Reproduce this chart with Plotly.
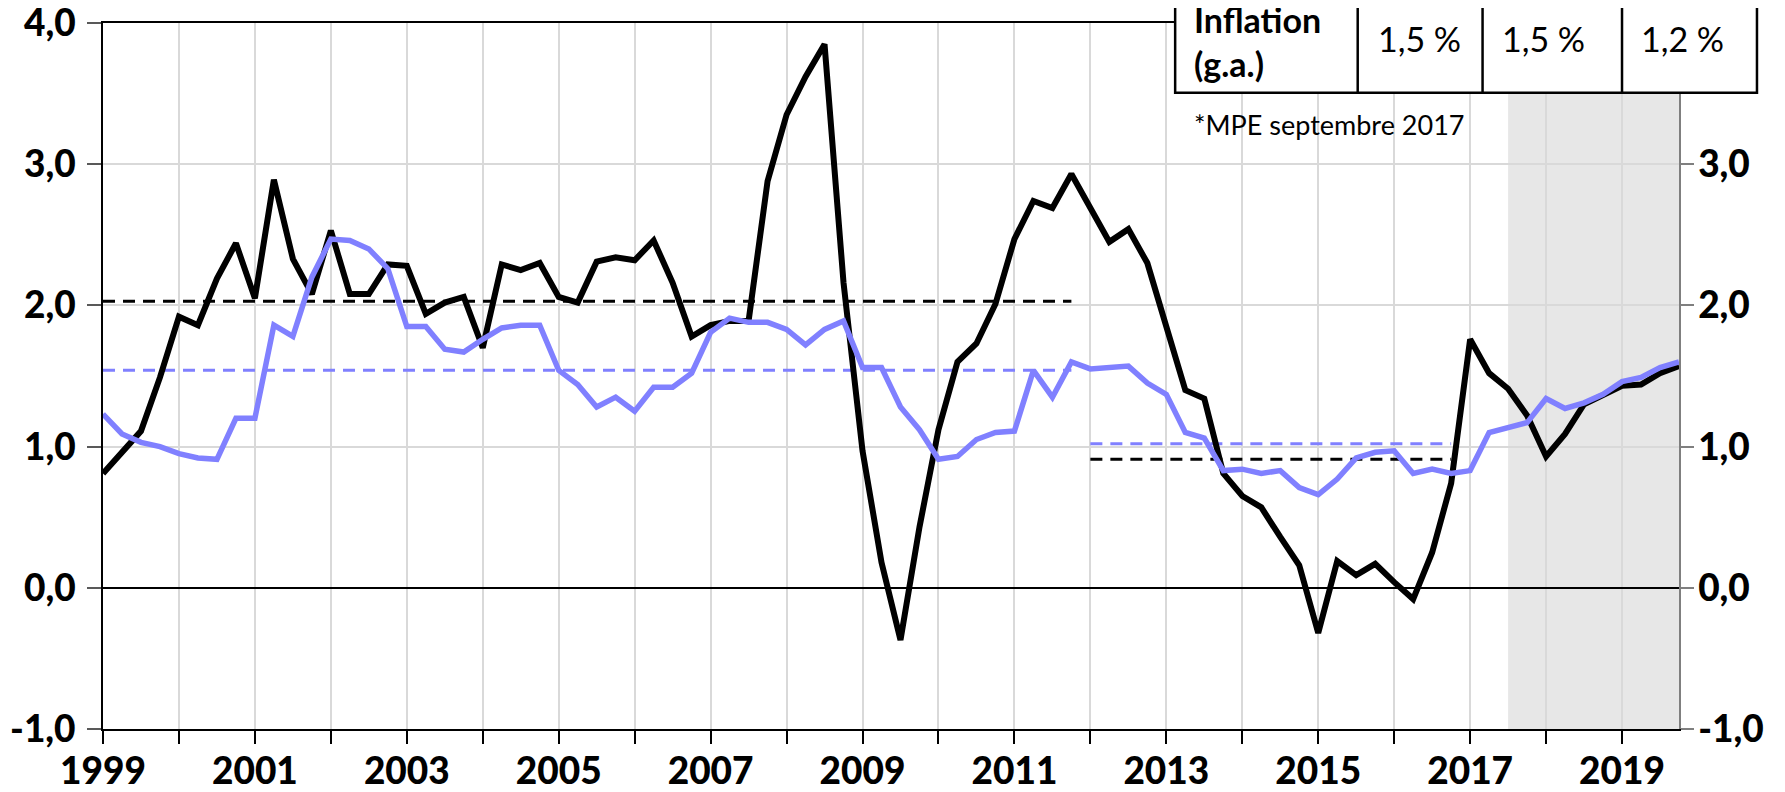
import plotly.graph_objects as go

# ---------------- data (quarterly, 1999Q1 .. 2019Q4) ----------------
start_year = 1999
black_series = [
    0.81, 0.96, 1.11, 1.49, 1.92, 1.86, 2.19, 2.44, 2.05, 2.89, 2.33, 2.08,
    2.53, 2.08, 2.08, 2.29, 2.28, 1.94, 2.02, 2.06, 1.70, 2.29, 2.25, 2.30,
    2.06, 2.02, 2.31, 2.34, 2.32, 2.46, 2.16, 1.78, 1.86, 1.89, 1.89, 2.88,
    3.35, 3.62, 3.85, 2.16, 0.97, 0.18, -0.37, 0.43, 1.12, 1.60, 1.73, 2.01,
    2.47, 2.74, 2.69, 2.93, 2.68, 2.45, 2.54, 2.30, 1.85, 1.40, 1.34, 0.81,
    0.65, 0.57, 0.36, 0.16, -0.32, 0.19, 0.09, 0.17, 0.04, -0.08, 0.25, 0.74,
    1.76, 1.52, 1.41, 1.22, 0.93, 1.09, 1.30, 1.37, 1.43, 1.44, 1.52, 1.57,
]
blue_series = [
    1.23, 1.09, 1.03, 1.00, 0.95, 0.92, 0.91, 1.20, 1.20, 1.86, 1.78, 2.20,
    2.47, 2.46, 2.40, 2.26, 1.85, 1.85, 1.69, 1.67, 1.76, 1.84, 1.86, 1.86,
    1.54, 1.44, 1.28, 1.35, 1.25, 1.42, 1.42, 1.52, 1.81, 1.91, 1.88, 1.88,
    1.83, 1.72, 1.83, 1.89, 1.56, 1.56, 1.28, 1.12, 0.91, 0.93, 1.05, 1.10,
    1.11, 1.54, 1.35, 1.60, 1.55, 1.56, 1.57, 1.45, 1.37, 1.10, 1.06, 0.83,
    0.84, 0.81, 0.83, 0.71, 0.66, 0.77, 0.92, 0.96, 0.97, 0.81, 0.84, 0.81,
    0.83, 1.10, 1.13, 1.17, 1.34, 1.27, 1.31, 1.37, 1.46, 1.49, 1.56, 1.60,
]
quarters = [start_year + i / 4 for i in range(len(black_series))]

# period averages (dashed lines)
period1 = [1999.0, 2011.75]
period2 = [2012.0, 2016.75]
black_avg = [2.03, 0.91]
blue_avg = [1.54, 1.02]

# projection shading
proj_period = [2017.5, 2019.75]

year_ticks = list(range(1999, 2020))
year_labels = [str(y) if y % 2 == 1 else "" for y in year_ticks]
y_ticks = [-1, 0, 1, 2, 3, 4]
y_labels = ["-1,0", "0,0", "1,0", "2,0", "3,0", "4,0"]
y2_ticks = [-1, 0, 1, 2, 3]
y2_labels = ["-1,0", "0,0", "1,0", "2,0", "3,0"]

table_label = "Inflation<br>(g.a.)"
table_values = ["1,5 %", "1,5 %", "1,2 %"]
note_text = "*MPE septembre 2017"

BLACK = "#000000"
BLUE = "#8080FF"
FONT = "Lato"

fig = go.Figure()

# dashed averages
for i, per in enumerate([period1, period2]):
    fig.add_trace(go.Scatter(x=per, y=[black_avg[i]] * 2, mode="lines",
                             line=dict(color=BLACK, width=3, dash="12px,8px"),
                             showlegend=False, hoverinfo="skip"))
    fig.add_trace(go.Scatter(x=per, y=[blue_avg[i]] * 2, mode="lines",
                             line=dict(color=BLUE, width=3, dash="12px,8px"),
                             showlegend=False, hoverinfo="skip"))

fig.add_trace(go.Scatter(x=quarters, y=black_series, mode="lines",
                         line=dict(color=BLACK, width=6), showlegend=False))
fig.add_trace(go.Scatter(x=quarters, y=blue_series, mode="lines", yaxis="y2",
                         line=dict(color=BLUE, width=5.5), showlegend=False))

# shaded projection area
fig.add_shape(type="rect", xref="x", yref="y", x0=proj_period[0], x1=proj_period[1],
              y0=-1, y1=4, fillcolor="#E7E7E7", line=dict(width=0), layer="below")

# ---------------- geometry (screen pixels of the reference) ----------------
OFF = 8  # page body margin
L, R = 102.5, 1679.0
T, B = 23.0, 729.0
def px_x(p):
    return (p - L) / (R - L)
def px_y(p):
    return 1 - (p - T) / (B - T)

col_edges = [1175, 1357.6, 1482.5, 1622, 1757]
tbl_bottom = 92.7
fig.add_shape(type="rect", xref="paper", yref="paper",
              x0=px_x(col_edges[0]), x1=px_x(col_edges[-1]),
              y0=px_y(tbl_bottom), y1=px_y(-10),
              fillcolor="white", line=dict(color=BLACK, width=2.5), layer="above")
for e in col_edges[1:-1]:
    fig.add_shape(type="line", xref="paper", yref="paper",
                  x0=px_x(e), x1=px_x(e), y0=px_y(tbl_bottom), y1=px_y(-10),
                  line=dict(color=BLACK, width=2.5), layer="above")

fig.add_annotation(xref="paper", yref="paper", x=px_x(1192), y=px_y(42),
                   xanchor="left", yanchor="middle", align="left",
                   text=table_label, showarrow=False,
                   font=dict(family=FONT, size=34, color=BLACK, weight="bold"))
for v, cx in zip(table_values, [1419, 1543, 1683]):
    fig.add_annotation(xref="paper", yref="paper", x=px_x(cx), y=px_y(39),
                       xanchor="center", yanchor="middle", text=v, showarrow=False,
                       font=dict(family=FONT, size=34, color=BLACK))
fig.add_annotation(xref="paper", yref="paper", x=px_x(1192), y=px_y(124),
                   xanchor="left", yanchor="middle", text=note_text, showarrow=False,
                   font=dict(family=FONT, size=27, color=BLACK))

tickfont = dict(family=FONT, size=37, color=BLACK, weight=900)

fig.update_layout(
    width=1785, height=792,
    margin=dict(l=L - OFF, r=1785 - (R - OFF), t=T - OFF, b=792 - (B - OFF),
                pad=0, autoexpand=False),
    paper_bgcolor="white", plot_bgcolor="white",
    showlegend=False,
    xaxis=dict(range=[1999, 2019.75], tickmode="array", tickvals=year_ticks,
               ticktext=year_labels, showgrid=True, gridcolor="#D9D9D9", gridwidth=1.5,
               ticks="outside", ticklen=13, tickwidth=1.5, tickcolor=BLACK,
               showline=True, linecolor=BLACK, linewidth=2, mirror=True,
               zeroline=False, tickfont=tickfont, ticklabelstandoff=-4,
               ticklabeloverflow="allow", automargin=False),
    yaxis=dict(range=[-1, 4], tickmode="array", tickvals=y_ticks, ticktext=y_labels,
               showgrid=True, gridcolor="#D9D9D9", gridwidth=1.5,
               zeroline=True, zerolinecolor=BLACK, zerolinewidth=1.5,
               showline=True, linecolor=BLACK, linewidth=2,
               ticks="outside", ticklen=14, tickwidth=1.5, tickcolor="#595959",
               tickfont=tickfont, ticklabelstandoff=4, ticklabeloverflow="allow",
               automargin=False),
    yaxis2=dict(range=[-1, 4], overlaying="y", side="right", tickmode="array",
                tickvals=y2_ticks, ticktext=y2_labels, showgrid=False, zeroline=False,
                showline=True, linecolor="#7F7F7F", linewidth=1.5,
                ticks="outside", ticklen=13, tickwidth=1.5, tickcolor="#7F7F7F",
                tickfont=tickfont, ticklabelstandoff=-3, ticklabeloverflow="allow",
                automargin=False),
)

fig.write_html("out.html")
